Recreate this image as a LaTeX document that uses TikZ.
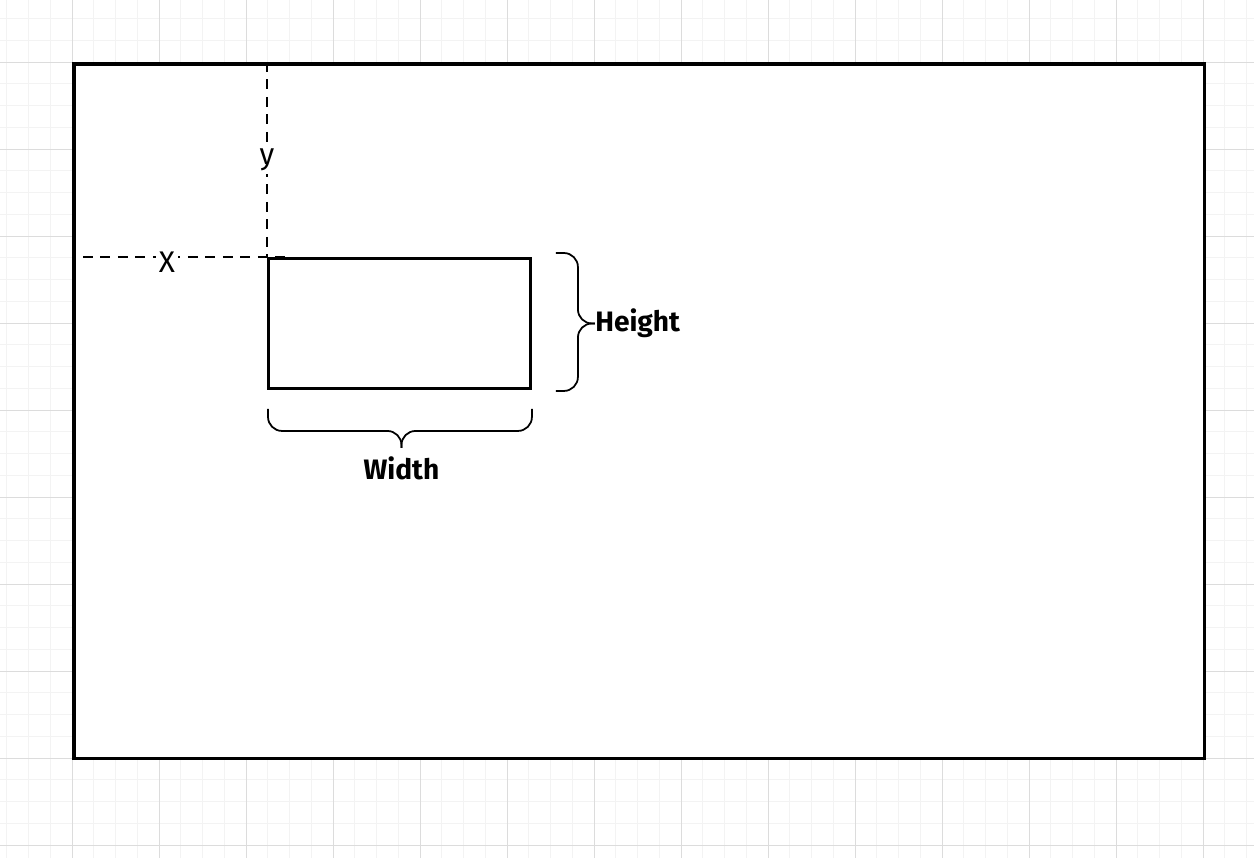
\documentclass[tikz,border=0pt]{standalone}
\usepackage{fontspec}
\setmainfont{Fira Sans}
\usetikzlibrary{positioning, calc}
\definecolor{gridminor}{RGB}{243,243,243}
\definecolor{gridmajor}{RGB}{220,220,220}
\tikzset{
  frame/.style={rectangle, draw=black, line width=2pt, inner sep=0pt,
    minimum width=22.62cm, minimum height=13.9cm},
  rectbox/.style={rectangle, draw=black, line width=1.7pt, inner sep=0pt,
    minimum width=5.24cm, minimum height=2.6cm},
  guide/.style={black, line width=1.6pt, dash pattern=on 0.2cm off 0.15cm},
  brace/.style={black, line width=1pt, rounded corners=8pt},
  axislabel/.style={fill=white, inner sep=1.5pt, font=\fontsize{17}{20}\selectfont},
  sizelabel/.style={inner sep=0pt, font=\fontsize{16}{19}\selectfont\bfseries}
}
\begin{document}
\begin{tikzpicture}[x=0.02cm, y=-0.02cm]
  \useasboundingbox (0,0) rectangle (1254,858);
  \fill[white] (0,0) rectangle (1254,858);

  % background grid
  \foreach \i in {0,...,57} {
    \draw[gridminor, line width=0.5pt] ({6.75+\i*21.75},0) -- ++(0,858);
  }
  \foreach \i in {0,...,38} {
    \draw[gridminor, line width=0.5pt] (0,{18.5+\i*21.75}) -- ++(1254,0);
  }
  \foreach \i in {0,...,13} {
    \draw[gridmajor, line width=0.5pt] ({72+\i*87},0) -- ++(0,858);
  }
  \foreach \i in {0,...,9} {
    \draw[gridmajor, line width=0.5pt] (0,{62+\i*87}) -- ++(1254,0);
  }

  % screen and element
  \node[frame, fill=white, anchor=north west] (screen) at (72,62) {};
  \node[rectbox, anchor=north west] (elem) at (267,257) {};

  % offsets
  \coordinate (xstart) at ($(elem.north west)+(-184,0)$);
  \draw[guide] (screen.north -| elem.north west) -- (elem.north west);
  \draw[guide] (xstart) -- ($(elem.north west)+(22,0)$);
  \node[axislabel] (ylab) at (267,160) {y};
  \node[axislabel] (xlab) at (167,262) {X};

  % height brace
  \node[sizelabel, anchor=west] (hlab) at ($(elem.east)+(63,0)$) {Height};
  \draw[brace] ($(elem.north east)+(24,-4)$) -| ($(elem.east)+(46,0)$) -- (hlab.west);
  \draw[brace] ($(elem.south east)+(24,1)$) -| ($(elem.east)+(46,0)$) -- (hlab.west);

  % width brace
  \node[sizelabel, anchor=north] (wlab) at ($(elem.south)+(2,66)$) {Width};
  \draw[brace] ($(elem.south west)+(1,19)$) |- ($(elem.south)+(2,41)$) -- ($(elem.south)+(2,58)$);
  \draw[brace] ($(elem.south east)+(0,19)$) |- ($(elem.south)+(2,41)$) -- ($(elem.south)+(2,58)$);
\end{tikzpicture}
\end{document}
